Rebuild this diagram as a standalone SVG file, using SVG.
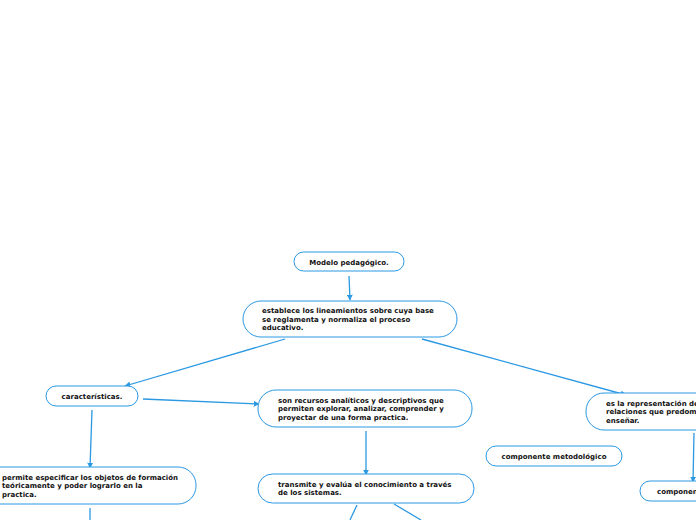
<svg xmlns="http://www.w3.org/2000/svg" width="696" height="520" viewBox="0 0 696 520">
<defs>
<style>
.n{fill:#fff;stroke:#2b98e2;stroke-width:1}
.t{font-family:"DejaVu Sans",Verdana,sans-serif;font-weight:bold;font-size:7px;fill:#111}
.c{fill:none;stroke:#2b98e2;stroke-width:1.3}
</style>
<marker id="a" viewBox="0 0 10 10" refX="9" refY="5" markerWidth="6" markerHeight="6" orient="auto" markerUnits="userSpaceOnUse">
<path d="M0,0L10,5L0,10z" fill="#2b98e2"/>
</marker>
</defs>
<rect width="696" height="520" fill="#fff"/>
<g id="connectors">
<path class="c" d="M349,276L350,300" marker-end="url(#a)"/>
<path class="c" d="M285,339L125,386" marker-end="url(#a)"/>
<path class="c" d="M422,339L626,395" marker-end="url(#a)"/>
<path class="c" d="M143,399L259,404" marker-end="url(#a)"/>
<path class="c" d="M92,410L90,468" marker-end="url(#a)"/>
<path class="c" d="M366,431L366,475" marker-end="url(#a)"/>
<path class="c" d="M694,433L693,482" marker-end="url(#a)"/>
<path class="c" d="M90,508L90,520"/>
<path class="c" d="M357,505L350,520"/>
<path class="c" d="M394,504L421,520"/>
</g>
<g id="n1"><rect class="n" x="294" y="252" width="110" height="19" rx="9.5"/><text class="t" x="349" y="264.5" text-anchor="middle">Modelo pedagógico.</text></g>
<g id="n2"><rect class="n" x="243" y="301" width="214" height="36" rx="18"/><text class="t" x="262" y="313">establece los lineamientos sobre cuya base</text><text class="t" x="262" y="321.5">se reglamenta y normaliza el proceso</text><text class="t" x="262" y="330">educativo.</text></g>
<g id="n3"><rect class="n" x="46" y="386" width="92" height="20" rx="10"/><text class="t" x="92" y="398.5" text-anchor="middle">características.</text></g>
<g id="n4"><rect class="n" x="258" y="390" width="214" height="37" rx="18"/><text class="t" x="278" y="402.5">son recursos analíticos y descriptivos que</text><text class="t" x="278" y="411">permiten explorar, analizar, comprender y</text><text class="t" x="278" y="419.5">proyectar de una forma practica.</text></g>
<g id="n5"><rect class="n" x="586" y="393" width="180" height="37" rx="18"/><text class="t" x="606" y="405.5">es la representación de</text><text class="t" x="606" y="414">relaciones que predomi</text><text class="t" x="606" y="422.5">enseñar.</text></g>
<g id="n6"><rect class="n" x="486" y="446" width="136" height="20" rx="10"/><text class="t" x="554" y="458.5" text-anchor="middle">componente metodológico</text></g>
<g id="n7"><rect class="n" x="640" y="481" width="120" height="20" rx="10"/><text class="t" x="657" y="493.5">componen</text></g>
<g id="n8"><rect class="n" x="-40" y="467" width="236" height="37" rx="18"/><text class="t" x="2" y="479.5">permite especificar los objetos de formación</text><text class="t" x="2" y="488">teóricamente y poder lograrlo en la</text><text class="t" x="2" y="496.5">practica.</text></g>
<g id="n9"><rect class="n" x="258" y="474" width="216" height="29" rx="14.5"/><text class="t" x="278" y="486.5">transmite y evalúa el conocimiento a través</text><text class="t" x="278" y="495">de los sistemas.</text></g>
</svg>
